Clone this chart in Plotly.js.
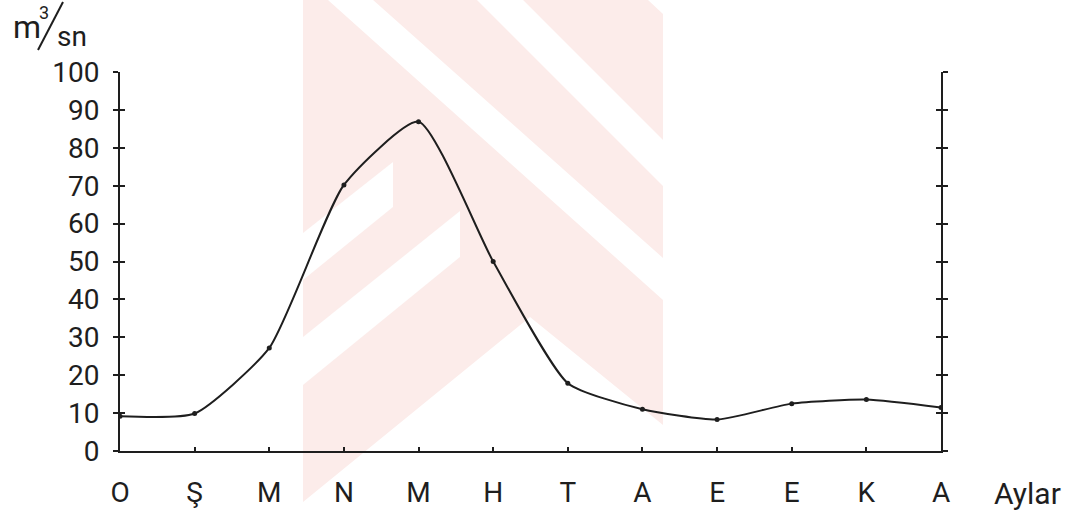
<!DOCTYPE html>
<html>
<head>
<meta charset="utf-8">
<script src="https://cdn.plot.ly/plotly-3.0.1.min.js"></script>
<style>html,body{margin:0;padding:0;background:#fff;}#chart{width:1072px;height:523px;}</style>
</head>
<body>
<div id="chart"></div>
<script>
// ---- data ----
const months = ['O', 'Ş', 'M', 'N', 'M', 'H', 'T', 'A', 'E', 'E', 'K', 'A'];
const flow = [9.2, 9.9, 27.2, 70.2, 86.9, 50.0, 17.9, 11.0, 8.3, 12.5, 13.6, 11.5];
const yTickValues = [0, 10, 20, 30, 40, 50, 60, 70, 80, 90, 100];
const xAxisLabel = 'Aylar';

// ---- layout geometry ----
const W = 1072, H = 523;
const M = {l: 120, r: 131, t: 72, b: 72};
const pw = W - M.l - M.r, ph = H - M.t - M.b;
const px = x => (x - M.l) / pw;
const py = y => (H - M.b - y) / ph;
const poly = pts => 'M ' + pts.map(p => px(p[0]).toFixed(4) + ',' + py(p[1]).toFixed(4)).join(' L ') + ' Z';

const ink = '#1e1e1e';
const pink = '#fcecea';
const font = 'Roboto, "Noto Sans", sans-serif';

// faint background watermark (pink chevron stripes)
const wm = [
  {fill: pink, pts: [[303,0],[663,0],[663,425],[530,317],[303,502]]},
  {fill: '#ffffff', pts: [[328,0],[373,0],[663,258],[663,300]]},
  {fill: '#ffffff', pts: [[477,0],[523,0],[663,140],[663,186]]},
  {fill: '#ffffff', pts: [[648,0],[663,0],[663,14]]},
  {fill: '#ffffff', pts: [[303,233],[303,280],[393,207],[393,162]]},
  {fill: '#ffffff', pts: [[303,337],[303,385],[460,257],[460,211]]}
];
const shapes = wm.map(s => ({
  type: 'path', xref: 'paper', yref: 'paper', layer: 'below',
  path: poly(s.pts), fillcolor: s.fill, line: {width: 0}
}));
// slash of the unit label m³/sn
shapes.push({type: 'line', xref: 'paper', yref: 'paper',
  x0: px(38), y0: py(50), x1: px(63), y1: py(2), line: {color: ink, width: 2}});

const xs = months.map((_, i) => i);

const trace = {
  x: xs, y: flow, type: 'scatter', mode: 'lines+markers',
  line: {color: ink, width: 2, shape: 'spline', smoothing: 0.55},
  marker: {color: ink, size: 5},
  hoverinfo: 'skip', showlegend: false
};
const trace2 = {x: [0], y: [0], yaxis: 'y2', mode: 'markers', marker: {opacity: 0}, showlegend: false, hoverinfo: 'skip'};

const layout = {
  width: W, height: H,
  margin: M,
  paper_bgcolor: '#ffffff', plot_bgcolor: 'rgba(0,0,0,0)',
  font: {family: font, size: 28, color: ink},
  xaxis: {
    range: [0, 11], tickmode: 'array', tickvals: xs, ticktext: months,
    showline: true, linecolor: ink, linewidth: 2,
    ticks: 'inside', ticklen: 4, tickwidth: 2, tickcolor: ink,
    ticklabelstandoff: 15,
    showgrid: false, zeroline: false,
    tickfont: {family: font, size: 28, color: ink}
  },
  yaxis: {
    range: [0, 100], tickmode: 'array', tickvals: yTickValues,
    showline: true, linecolor: ink, linewidth: 2, mirror: 'ticks',
    ticks: 'outside', ticklen: 5, tickwidth: 2, tickcolor: ink,
    ticklabelstandoff: 8,
    showgrid: false, zeroline: false,
    tickfont: {family: font, size: 28, color: ink}
  },
  yaxis2: {
    overlaying: 'y', range: [0, 100], tickmode: 'array', tickvals: yTickValues,
    showline: true, linecolor: ink, linewidth: 2, mirror: 'ticks',
    ticks: 'inside', ticklen: 5, tickwidth: 2, tickcolor: ink,
    showticklabels: false, showgrid: false, zeroline: false
  },
  shapes: shapes,
  annotations: [
    {xref: 'paper', yref: 'paper', x: px(1027), y: py(493), text: xAxisLabel, showarrow: false,
     font: {family: font, size: 30, color: ink}, xanchor: 'center', yanchor: 'middle'},
    {xref: 'paper', yref: 'paper', x: px(27), y: py(27), text: 'm', showarrow: false,
     font: {family: font, size: 32, color: ink}, xanchor: 'center', yanchor: 'middle'},
    {xref: 'paper', yref: 'paper', x: px(44), y: py(13), text: '3', showarrow: false,
     font: {family: font, size: 18, color: ink}, xanchor: 'center', yanchor: 'middle'},
    {xref: 'paper', yref: 'paper', x: px(72), y: py(37), text: 'sn', showarrow: false,
     font: {family: font, size: 28, color: ink}, xanchor: 'center', yanchor: 'middle'}
  ]
};

Plotly.newPlot('chart', [trace, trace2], layout, {displayModeBar: false, staticPlot: true});
</script>
</body>
</html>
